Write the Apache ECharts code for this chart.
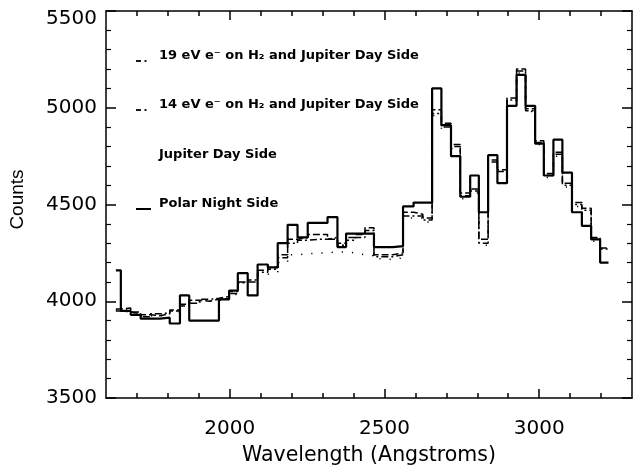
<!DOCTYPE html>
<html>
<head>
<meta charset="utf-8">
<script src="https://cdn.jsdelivr.net/npm/echarts@6/dist/echarts.min.js"></script>
<style>
html,body{margin:0;padding:0;background:#fff;}
#chart{width:635px;height:471px;}
</style>
</head>
<body>
<div id="chart"></div>
<script>
// Bin edges (Angstroms) - left edges of each histogram bin, last value is the final right edge
const wavelengths = [1632, 1648, 1680, 1712, 1744, 1775, 1806, 1839, 1869, 1902, 1934, 1965, 1998, 2026, 2058, 2090, 2123, 2155, 2187, 2219, 2252, 2284, 2316, 2348, 2376, 2406, 2437, 2466, 2497, 2527, 2560, 2594, 2624, 2654, 2684, 2715, 2745, 2777, 2805, 2835, 2865, 2896, 2927, 2956, 2987, 3015, 3046, 3075, 3106, 3138, 3168, 3197, 3224];

const polarNightSide = [4160, 3950, 3930, 3910, 3910, 3915, 3885, 4030, 3900, 3900, 3900, 4010, 4055, 4145, 4030, 4190, 4175, 4300, 4395, 4330, 4405, 4405, 4435, 4280, 4350, 4350, 4350, 4280, 4280, 4285, 4490, 4510, 4510, 5100, 4910, 4750, 4540, 4650, 4460, 4755, 4610, 5010, 5170, 5010, 4815, 4650, 4835, 4665, 4460, 4390, 4320, 4200];

const eV19 = [3960, 3965, 3945, 3930, 3925, 3935, 3950, 3985, 4005, 4000, 4010, 4015, 4040, 4100, 4100, 4160, 4175, 4240, 4320, 4330, 4345, 4345, 4320, 4300, 4330, 4345, 4380, 4240, 4240, 4250, 4460, 4450, 4430, 4990, 4920, 4810, 4560, 4580, 4320, 4730, 4680, 5050, 5200, 4995, 4830, 4660, 4770, 4610, 4510, 4480, 4330, 4275];

const eV14 = [3950, 3945, 3935, 3920, 3935, 3940, 3955, 3975, 3990, 4010, 4015, 4025, 4050, 4095, 4110, 4150, 4165, 4225, 4300, 4315, 4320, 4320, 4330, 4290, 4315, 4330, 4365, 4230, 4230, 4240, 4440, 4440, 4420, 4970, 4900, 4800, 4545, 4570, 4300, 4720, 4670, 5040, 5190, 4985, 4820, 4650, 4760, 4600, 4500, 4470, 4320, 4270];

const jupiterDaySide = [3955, 3955, 3940, 3925, 3925, 3930, 3945, 3980, 3995, 4000, 4005, 4010, 4035, 4080, 4090, 4140, 4150, 4200, 4240, 4245, 4250, 4250, 4255, 4255, 4250, 4240, 4235, 4220, 4215, 4225, 4430, 4430, 4410, 4960, 4890, 4790, 4530, 4560, 4290, 4710, 4660, 5030, 5180, 4980, 4810, 4640, 4750, 4590, 4490, 4460, 4310, 4290];

const xMajorTicks = [2000, 2500, 3000];
const xMinorTicks = [1700, 1800, 1900, 2100, 2200, 2300, 2400, 2600, 2700, 2800, 2900, 3100, 3200];
const yTicks = [3500, 4000, 4500, 5000, 5500];

const legendLabels = [
  '19 eV e\u207B on H\u2082 and Jupiter Day Side',
  '14 eV e\u207B on H\u2082 and Jupiter Day Side',
  'Jupiter Day Side',
  'Polar Night Side'
];

function steps(vals) {
  return wavelengths.map((w, i) => [w, vals[Math.min(i, vals.length - 1)]]);
}

const chart = echarts.init(document.getElementById('chart'), null, {renderer: 'canvas'});

const black = '#000';
const axisLine = {show: true, lineStyle: {color: black, width: 1.5}};
const labelFont = {color: black, fontSize: 20, fontFamily: 'DejaVu Sans'};

function xAx(pos, ticks, len, labels) {
  return {
    type: 'value', position: pos, min: 1600, max: 3300,
    axisLine: axisLine,
    axisTick: {show: true, inside: true, length: len, customValues: ticks, lineStyle: {color: black, width: 1.5}},
    axisLabel: labels ? Object.assign({show: true, customValues: xMajorTicks, margin: 21,
      formatter: v => String(v)}, labelFont) : {show: false},
    splitLine: {show: false},
    name: labels ? 'Wavelength (Angstroms)' : '',
    nameLocation: 'middle', nameGap: 47,
    nameTextStyle: {color: black, fontSize: 20.5, fontFamily: 'DejaVu Sans'}
  };
}

function yAx(pos, labels) {
  return {
    type: 'value', position: pos, min: yTicks[0], max: yTicks[yTicks.length - 1], interval: 500,
    axisLine: axisLine,
    axisTick: {show: true, inside: true, length: 10, lineStyle: {color: black, width: 1.5}},
    minorTick: {show: true, splitNumber: 5, length: 5, lineStyle: {color: black, width: 1.2}},
    axisLabel: labels ? Object.assign({show: true, margin: 9,
      formatter: v => (v === yTicks[yTicks.length - 1] ? '{t|' + v + '}' : '{n|' + v + '}'),
      rich: {t: Object.assign({padding: [16, 0, 0, 0]}, labelFont), n: labelFont}}, labelFont) : {show: false},
    splitLine: {show: false},
    minorSplitLine: {show: false},
    name: labels ? 'Counts' : '',
    nameLocation: 'middle', nameGap: 79, nameRotate: 90,
    nameTextStyle: {color: black, fontSize: 19, fontFamily: 'Liberation Sans', padding: [0, 0, 0, 10]}
  };
}

const lineBase = {type: 'line', step: 'end', showSymbol: false, symbol: 'none', animation: false, xAxisIndex: 0, yAxisIndex: 0};

const option = {
  animation: false,
  backgroundColor: '#fff',
  grid: {left: 105, right: 3, top: 11, bottom: 65, containLabel: false},
  xAxis: [
    xAx('bottom', xMajorTicks, 9, true),
    Object.assign(xAx('bottom', xMinorTicks, 5, false), {axisLine: {show: false}}),
    xAx('top', xMajorTicks, 9, false),
    Object.assign(xAx('top', xMinorTicks, 5, false), {axisLine: {show: false}})
  ],
  yAxis: [yAx('left', true), yAx('right', false)],
  series: [
    Object.assign({}, lineBase, {name: legendLabels[2], data: steps(jupiterDaySide),
      lineStyle: {color: black, width: 1.5, type: [1.2, 9]}, z: 1}),
    Object.assign({}, lineBase, {name: legendLabels[1], data: steps(eV14),
      lineStyle: {color: black, width: 1.5, type: [7, 3, 2, 3]}, z: 2}),
    Object.assign({}, lineBase, {name: legendLabels[0], data: steps(eV19),
      lineStyle: {color: black, width: 1.5, type: [7, 3]}, z: 3}),
    Object.assign({}, lineBase, {name: legendLabels[3], data: steps(polarNightSide),
      lineStyle: {color: black, width: 2.2, type: 'solid'}, z: 4})
  ],
  graphic: [
    {type: 'text', left: 159, top: 49, style: {text: legendLabels[0], fill: black, font: 'bold 13px "DejaVu Sans"'}},
    {type: 'text', left: 159, top: 98, style: {text: legendLabels[1], fill: black, font: 'bold 13px "DejaVu Sans"'}},
    {type: 'text', left: 159, top: 148, style: {text: legendLabels[2], fill: black, font: 'bold 13px "DejaVu Sans"'}},
    {type: 'text', left: 159, top: 197, style: {text: legendLabels[3], fill: black, font: 'bold 13px "DejaVu Sans"'}},
    {type: 'line', shape: {x1: 136, y1: 61, x2: 141, y2: 61}, style: {stroke: black, lineWidth: 1.8}},
    {type: 'line', shape: {x1: 144.5, y1: 61, x2: 146.5, y2: 61}, style: {stroke: black, lineWidth: 1.8}},
    {type: 'line', shape: {x1: 136, y1: 110, x2: 141, y2: 110}, style: {stroke: black, lineWidth: 1.8}},
    {type: 'line', shape: {x1: 144.5, y1: 110, x2: 146.5, y2: 110}, style: {stroke: black, lineWidth: 1.8}},
    {type: 'line', shape: {x1: 136, y1: 209, x2: 151, y2: 209}, style: {stroke: black, lineWidth: 2}}
  ]
};

chart.setOption(option);
</script>
</body>
</html>
